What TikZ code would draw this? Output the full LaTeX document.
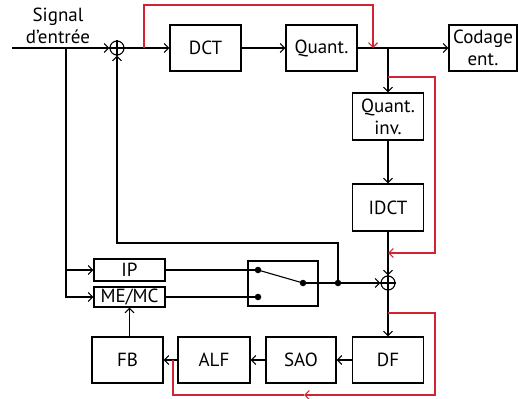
\documentclass[tikz,border=0pt]{standalone}
\usepackage{fontspec}
\setmainfont{PT Sans}
\usetikzlibrary{arrows.meta}
\definecolor{redline}{RGB}{210,35,50}
\begin{document}
\begin{tikzpicture}[x=1pt, y=-1pt, line width=1.1pt,
  >={Straight Barb[length=4.5pt, width=9pt]},
  every node/.style={font=\fontsize{19}{22}\selectfont},
  blk/.style={draw, inner sep=0pt, minimum width=71pt, minimum height=46pt, align=center},
  sumnode/.style={draw, circle, minimum size=14pt, inner sep=0pt},
  dot/.style={circle, fill, minimum size=6.5pt, inner sep=0pt},
  redloop/.style={color=redline}]
\useasboundingbox (0,0) rectangle (518,398);

% --- forward path ---
\node[align=center] (sig) at (58,26) {Signal\\d’entrée};
\node[sumnode] (sumin) at (117,48) {};
\node[blk] (dct) at (205.5,48) {DCT};
\node[blk] (quant) at (321.5,48) {Quant.};
\node[blk, minimum width=68pt] (codage) at (483,48) {Codage\\ent.};
\node[blk, minimum height=47pt] (qinv) at (388,116.5) {Quant.\\inv.};
\node[blk, minimum height=47pt] (idct) at (388,207.5) {IDCT};
\node[sumnode] (sumrec) at (388,283) {};
\coordinate (in) at (12,48);
\coordinate (split) at (66,48);
\coordinate (qsplit) at (388,48);
\coordinate (dfsplit) at (388,313);
\draw (sumin.north) -- (sumin.south) (sumin.west) -- (sumin.east);
\draw (sumrec.north) -- (sumrec.south) (sumrec.west) -- (sumrec.east);
\draw[->] (in) -- (sumin);
\draw[->] (sumin) -- (dct);
\draw[->] (dct) -- (quant);
\draw[->] (quant) -- (codage);
\draw[->] (qsplit) -- (qinv);
\draw[->] (qinv) -- (idct);
\draw[->] (idct) -- (sumrec);

% --- prediction ---
\node[blk, minimum height=22pt] (ip) at (129.5,270) {IP};
\node[blk, minimum height=20pt] (memc) at (129.5,297) {ME/MC};
\node[blk, minimum width=70pt, minimum height=45pt] (sel) at (283,283.5) {};
\node[dot] (swa) at (258,270) {};
\node[dot] (swb) at (258,297) {};
\node[dot] (swo) at (303,283) {};
\node[dot] (tap) at (338,283) {};
\coordinate (bend) at (338,243);
\draw[->] (split) |- (ip);
\draw[->] (split) |- (memc);
\draw (ip) -- (swa.center);
\draw (memc) -- (swb.center);
\draw (swa.center) -- (swo.center);
\draw[->] (swo.center) -- (sumrec);
\draw[->] (tap.center) -- (bend) -| (sumin);

% --- loop filters ---
\node[blk] (df) at (388,360) {DF};
\node[blk, minimum width=70pt] (sao) at (301,360) {SAO};
\node[blk, minimum width=72pt] (alf) at (214,360) {ALF};
\node[blk] (fbuf) at (127.5,360) {FB};
\draw[->] (sumrec) -- (df);
\draw[->] (df) -- (sao);
\draw[->] (sao) -- (alf);
\draw[->] (alf) -- (fbuf);
\draw[->] (memc.south |- fbuf.north) -- (memc.south);

% --- red loops ---
\coordinate (r1) at (144,48);
\coordinate (qin) at (373,48);
\coordinate (r2) at (388,77);
\coordinate (r2end) at (388,253);
\coordinate (r3mid) at (304,395);
\coordinate (r3end) at (173,360);
\draw[redloop, ->] (r1) -- ++(0,-43) -| (qin);
\draw[redloop, ->] (r2) -- ++(47,0) |- (r2end);
\draw[redloop, ->] (dfsplit) -- ++(47,0) |- (r3mid);
\draw[redloop] (r3mid) -| (r3end);

\end{tikzpicture}
\end{document}
